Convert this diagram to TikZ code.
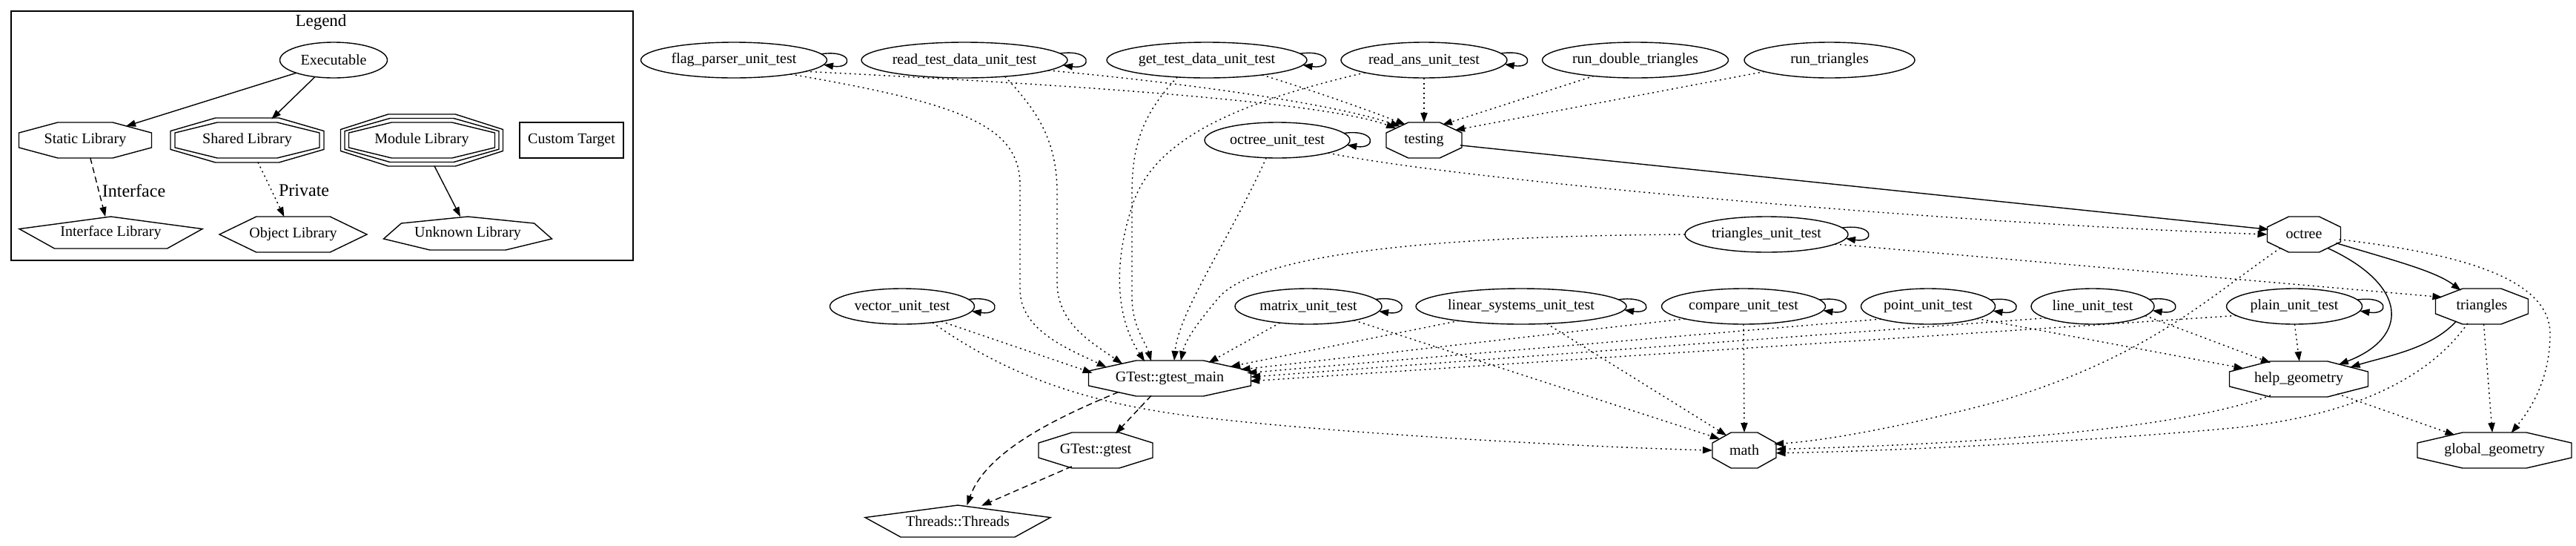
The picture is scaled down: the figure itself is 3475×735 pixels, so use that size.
\documentclass[tikz,border=0pt]{standalone}
\usepackage{fontspec}
\setmainfont{Liberation Serif}
\usetikzlibrary{arrows.meta,shapes.geometric}
\newcommand\nodefont{\fontsize{10}{12}\selectfont}
\newcommand\lblfont{\fontsize{12}{14}\selectfont}
\newcommand\legfont{\fontsize{11.5}{13}\selectfont}
\tikzset{
  hid/.style={ellipse, inner sep=0pt, outer sep=0pt, font=\nodefont},
  exe/.style={ellipse, draw, line width=0.7pt, inner sep=0pt, outer sep=0pt, minimum height=24pt, font=\nodefont},
  shp/.style={line width=0.7pt},
  solidedge/.style={line width=0.7pt, -{Triangle[length=6.5pt,width=4.6pt]}},
  dotedge/.style={solidedge, dash pattern=on 1pt off 2.3pt},
  dashedge/.style={solidedge, dash pattern=on 4pt off 2.5pt},
  lbl/.style={font=\lblfont, inner sep=1pt},
}
\newcommand\octpath[4]{\draw[shp, shift={(#1,#2)}, xscale=#3, yscale=#4] (1,.414)--(.414,1)--(-.414,1)--(-1,.414)--(-1,-.414)--(-.414,-1)--(.414,-1)--(1,-.414)--cycle;}
\newcommand\octo[5]{\node[hid, minimum width=#4pt, minimum height=24pt] (#1) at (#2,#3) {#5};\octpath{#2}{#3}{#4}{24}}
\newcommand\pentnode[6]{\node[hid, minimum width=#4pt, minimum height=#5pt] (#1) at (#2,#3) {#6};
  \draw[shp, shift={(#2,#3)}, xscale=#4, yscale=#5] (0,-1)--(1,-.23)--(.615,1)--(-.615,1)--(-1,-.23)--cycle;}
\newcommand\hexnode[6]{\node[hid, minimum width=#4pt, minimum height=#5pt] (#1) at (#2,#3) {#6};
  \draw[shp, shift={(#2,#3)}, xscale=#4, yscale=#5] (1,0)--(.5,1)--(-.5,1)--(-1,0)--(-.5,-1)--(.5,-1)--cycle;}
\newcommand\septnode[6]{\node[hid, minimum width=#4pt, minimum height=#5pt] (#1) at (#2,#3) {#6};
  \draw[shp, shift={(#2,#3)}, xscale=#4, yscale=#5] (0,-1)--(.79,-.6)--(1,.33)--(.45,1)--(-.45,1)--(-1,.33)--(-.79,-.6)--cycle;}
\newcommand\selfloop[2]{%
  \pgfmathtruncatemacro\lpa{round(atan(9/(#2*0.927)))}%
  \pgfmathtruncatemacro\lpb{round(atan(6/(#2*0.968)))}%
  \draw[solidedge] (#1.\lpa) .. controls +(44,-6) and +(40,6) .. (#1.-\lpb);}
\begin{document}
\begin{tikzpicture}[x=0.5pt, y=-0.5pt]
\fill[white] (0,0) rectangle (3475,735);
\useasboundingbox (0,0) rectangle (3475,735);

% ---------- legend ----------
\draw[line width=0.7pt] (15,15) rectangle (854,351);
\node[font=\legfont] (legend) at (433,30) {Legend};
\node[exe, minimum width=72.5pt] (exe) at (450,81) {Executable};
\octo{static}{115}{189}{89.5}{Static Library}
\node[hid, minimum width=103.5pt, minimum height=30pt] (shared) at (333.5,189) {Shared Library};
\octpath{333.5}{189}{97.5}{24}
\octpath{333.5}{189}{103.5}{30}
\node[hid, minimum width=109.5pt, minimum height=35pt] (module) at (569,189) {Module Library};
\octpath{569}{189}{98.5}{24}
\octpath{569}{189}{104}{29.5}
\octpath{569}{189}{109.5}{35}
\node[draw, line width=0.7pt, minimum width=70pt, minimum height=24pt, inner sep=0pt, font=\nodefont] (custom) at (771,189) {Custom Target};
\pentnode{iface}{149.5}{313.5}{123.5}{21.5}{Interface Library}
\hexnode{object}{395.5}{316}{99.5}{24}{Object Library}
\septnode{unknown}{631}{314.5}{113.5}{22.5}{Unknown Library}

\draw[solidedge] (exe.-161) -- (static.19);
\draw[solidedge] (exe.-138) -- (shared.41);
\draw[dashedge] (static.-74) -- node[lbl, anchor=west, pos=.56, xshift=1pt] (ilabel) {Interface} (iface.109);
\draw[dotedge] (shared.-64) -- node[lbl, anchor=west, pos=.52, xshift=3.5pt] (plabel) {Private} (object.117);
\draw[solidedge] (module.-64) -- (unknown.114);

% ---------- executables ----------
\node[exe, minimum width=125.5pt] (flag) at (990,81) {flag\_parser\_unit\_test};
\node[exe, minimum width=139pt] (rtd) at (1301,81) {read\_test\_data\_unit\_test};
\node[exe, minimum width=135pt] (gtd) at (1628,81) {get\_test\_data\_unit\_test};
\node[exe, minimum width=112pt] (rans) at (1921,81) {read\_ans\_unit\_test};
\node[exe, minimum width=125.5pt] (rdt) at (2206,81) {run\_double\_triangles};
\node[exe, minimum width=115pt] (rtri) at (2468,81) {run\_triangles};
\node[exe, minimum width=98pt] (otu) at (1723,189) {octree\_unit\_test};
\node[exe, minimum width=110pt] (ttu) at (2383,316) {triangles\_unit\_test};
\node[exe, minimum width=97.5pt] (vec) at (1217,413) {vector\_unit\_test};
\node[exe, minimum width=99pt] (mat) at (1765,413) {matrix\_unit\_test};
\node[exe, minimum width=142pt] (lin) at (2052,413) {linear\_systems\_unit\_test};
\node[exe, minimum width=110.5pt] (cmp) at (2352,413) {compare\_unit\_test};
\node[exe, minimum width=90.5pt] (pnt) at (2601,413) {point\_unit\_test};
\node[exe, minimum width=83pt] (lnu) at (2823,413) {line\_unit\_test};
\node[exe, minimum width=91.5pt] (pln) at (3095,413) {plain\_unit\_test};

% ---------- libraries ----------
\octo{testing}{1921}{189}{51}{testing}
\octo{octree}{3108}{316}{49.5}{octree}
\octo{triangles}{3348}{413}{62.5}{triangles}
\octo{gmain}{1578}{510}{109.5}{GTest::gtest\_main}
\octo{help}{3101}{511}{93.5}{help\_geometry}
\octo{gtest}{1478}{607}{77}{GTest::gtest}
\octo{math}{2353}{607}{43}{math}
\octo{glob}{3365}{607}{104}{global\_geometry}
\pentnode{threads}{1292}{702.5}{125}{21.5}{Threads::Threads}

% ---------- self loops ----------
\selfloop{flag}{125.5}
\selfloop{rtd}{139}
\selfloop{gtd}{135}
\selfloop{rans}{112}
\selfloop{otu}{98}
\selfloop{ttu}{110}
\selfloop{vec}{97.5}
\selfloop{mat}{99}
\selfloop{lin}{142}
\selfloop{cmp}{110.5}
\selfloop{pnt}{90.5}
\selfloop{lnu}{83}
\selfloop{pln}{91.5}

% ---------- into testing ----------
\draw[dotedge] (flag.-9) .. controls (1400,112) and (1780,135) .. (testing.157);
\draw[dotedge] (rtd.-7) .. controls (1600,112) and (1800,140) .. (testing.150);
\draw[dotedge] (gtd.-15) .. controls (1780,125) and (1850,150) .. (testing.140);
\draw[dotedge] (rans.-90) -- (testing.90);
\draw[dotedge] (rdt.-159) -- (testing.40);
\draw[dotedge] (rtri.-170) -- (testing.18);

% ---------- into GTest::gtest_main ----------
\draw[dotedge] (flag.-14) .. controls (1300,140) and (1376,170) .. (1376,250) -- (1376,390) .. controls (1376,445) and (1440,470) .. (gmain.170);
\draw[dotedge] (rtd.-22) .. controls (1400,150) and (1426,190) .. (1426,260) -- (1426,380) .. controls (1426,435) and (1470,460) .. (gmain.163);
\draw[dotedge] (gtd.-150) .. controls (1545,150) and (1527,190) .. (1527,260) -- (1527,400) .. controls (1527,440) and (1545,460) .. (gmain.137);
\draw[dotedge] (rans.-168) .. controls (1660,140) and (1560,190) .. (1530,270) .. controls (1505,340) and (1500,420) .. (gmain.146);
\draw[dotedge] (otu.-122) .. controls (1660,320) and (1590,420) .. (gmain.76);
\draw[dotedge] (ttu.180) .. controls (1950,318) and (1700,340) .. (1645,400) .. controls (1620,430) and (1600,455) .. (gmain.58);
\draw[dotedge] (vec.-21) -- (gmain.176);
\draw[dotedge] (mat.-150) -- (gmain.22);
\draw[dotedge] (lin.-167) -- (gmain.11);
\draw[dotedge] (cmp.-168) -- (gmain.7);
\draw[dotedge] (pnt.-165) -- (gmain.4);
\draw[dotedge] (lnu.-166) -- (gmain.1);
\draw[dotedge] (pln.-171) -- (gmain.-2);

% ---------- into math ----------
\draw[dotedge] (vec.-28) .. controls (1350,500) and (1450,540) .. (1600,560) .. controls (1800,585) and (2150,603) .. (math.180);
\draw[dotedge] (mat.-17) -- (math.155);
\draw[dotedge] (lin.-34) -- (math.140);
\draw[dotedge] (cmp.-90) -- (math.90);
\draw[dotedge] (octree.-150) .. controls (2980,400) and (2900,480) .. (2700,540) .. controls (2550,580) and (2450,595) .. (math.12);
\draw[dotedge] (help.-150) .. controls (2950,575) and (2700,598) .. (math.2);
\draw[dotedge] (triangles.-130) .. controls (3270,520) and (3150,565) .. (3000,578) .. controls (2800,596) and (2550,608) .. (math.-5);

% ---------- octree / triangles / help / global ----------
\draw[solidedge] (testing.-8) -- (octree.172);
\draw[dotedge] (otu.-14) .. controls (1950,240) and (2600,300) .. (octree.180);
\draw[dotedge] (ttu.-8) -- (triangles.167);
\draw[solidedge] (octree.-15) .. controls (3225,350) and (3285,365) .. (triangles.143);
\draw[solidedge] (octree.-30) .. controls (3250,385) and (3250,455) .. (help.20);
\draw[solidedge] (triangles.-150) .. controls (3280,470) and (3220,480) .. (help.13);
\draw[dotedge] (pnt.-14) -- (help.169);
\draw[dotedge] (lnu.-10) -- (help.150);
\draw[dotedge] (pln.-89) -- (help.88);
\draw[dotedge] (triangles.-84) -- (glob.97);
\draw[dotedge] (octree.-8) .. controls (3300,340) and (3440,370) .. (3440,450) .. controls (3440,510) and (3415,550) .. (glob.46);
\draw[dotedge] (help.-21) -- (glob.159);

% ---------- gtest chain ----------
\draw[dashedge] (gmain.-137) -- (gtest.40);
\draw[dashedge] (gmain.-165) .. controls (1420,565) and (1330,610) .. (threads.60);
\draw[dashedge] (gtest.-146) -- (threads.33);
\end{tikzpicture}
\end{document}
